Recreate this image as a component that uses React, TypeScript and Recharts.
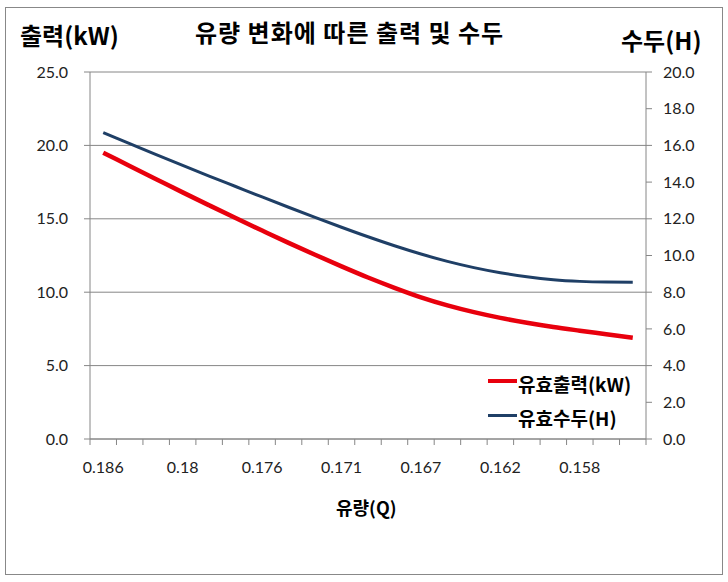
import React from 'react';
import { LineChart, Line, XAxis, YAxis, CartesianGrid } from 'recharts';

// flow rate categories (only every 3rd one is labelled on the axis)
const FLOW = [
  '0.186', '0.184', '0.182', '0.18', '0.179', '0.177', '0.176',
  '0.174', '0.173', '0.171', '0.17', '0.168', '0.167', '0.165',
  '0.164', '0.162', '0.161', '0.159', '0.158', '0.156', '0.155',
];
const POWER = [
  19.5, 18.6, 17.7, 16.8, 15.92, 15.05, 14.2, 13.36, 12.55, 11.76, 11.0,
  10.3, 9.65, 9.1, 8.64, 8.25, 7.92, 7.63, 7.38, 7.14, 6.9,
];
const HEAD = [
  16.7, 16.1, 15.5, 14.91, 14.33, 13.76, 13.19, 12.63, 12.08, 11.54, 11.02,
  10.53, 10.08, 9.68, 9.34, 9.06, 8.84, 8.68, 8.59, 8.55, 8.54,
];
const KW_TICKS = [0, 5, 10, 15, 20, 25];
const H_TICKS = [0, 2, 4, 6, 8, 10, 12, 14, 16, 18, 20];
const POWER_NAME = '유효출력(kW)';
const HEAD_NAME = '유효수두(H)';

const data = FLOW.map((q, i) => ({ q, power: POWER[i], head: HEAD[i] }));

const RED = '#E8000D';
const NAVY = '#1F3F66';
const AXIS = '#868686';
const KR = '"Noto Sans CJK KR", "Noto Sans", sans-serif';
const NUM = 'Lato, "Open Sans", sans-serif';

const PLOT_W = 556;
const HALF = PLOT_W / FLOW.length / 2;

// excel style: tick marks sit between categories, labels every 3rd category
const FlowTick = (props: any) => {
  const { x, y, payload, index } = props;
  const i = payload?.index ?? index;
  return (
    <g>
      <line x1={x - HALF} y1={y - 6} x2={x - HALF} y2={y} stroke={AXIS} />
      {i === FLOW.length - 1 && (
        <line x1={x + HALF} y1={y - 6} x2={x + HALF} y2={y} stroke={AXIS} />
      )}
      {i % 3 === 0 && (
        <text x={x} y={y + 28} textAnchor="middle" fill="#222" fontSize={16} fontFamily={NUM}>
          {payload.value}
        </text>
      )}
    </g>
  );
};

const textBold: React.CSSProperties = {
  position: 'absolute',
  fontFamily: KR,
  fontWeight: 700,
  color: '#000',
  whiteSpace: 'nowrap',
  lineHeight: 1,
};

export default function App() {
  return (
    <div style={{ position: 'absolute', left: 0, top: 0, width: 728, height: 582, background: '#fff' }}>
      <div style={{ position: 'absolute', left: 5, top: 7, width: 716, height: 566, border: '1px solid #888' }} />
      <LineChart
        width={728}
        height={582}
        data={data}
        margin={{ top: 72, right: 0, bottom: 100, left: 0 }}
      >
        <CartesianGrid yAxisId="kw" vertical={false} stroke={AXIS} />
        <XAxis
          dataKey="q"
          height={43}
          interval={0}
          padding={{ left: HALF, right: HALF }}
          axisLine={{ stroke: AXIS }}
          tickLine={false}
          tickSize={6}
          tickMargin={0}
          tick={<FlowTick />}
        />
        <YAxis
          yAxisId="kw"
          width={90}
          domain={[0, 25]}
          ticks={KW_TICKS}
          tickFormatter={(v) => Number(v).toFixed(1)}
          axisLine={{ stroke: AXIS }}
          tickLine={{ stroke: AXIS }}
          tickSize={6}
          tickMargin={16}
          tick={{ fill: '#222', fontSize: 16, fontFamily: NUM }}
        />
        <YAxis
          yAxisId="h"
          orientation="right"
          width={82}
          domain={[0, 20]}
          ticks={H_TICKS}
          tickFormatter={(v) => Number(v).toFixed(1)}
          axisLine={{ stroke: AXIS }}
          tickLine={{ stroke: AXIS }}
          tickSize={6}
          tickMargin={11}
          tick={{ fill: '#222', fontSize: 16, fontFamily: NUM, textAnchor: 'start' }}
        />
        <Line
          yAxisId="kw"
          type="monotone"
          dataKey="power"
          name={POWER_NAME}
          stroke={RED}
          strokeWidth={4.5}
          dot={false}
          isAnimationActive={false}
        />
        <Line
          yAxisId="h"
          type="monotone"
          dataKey="head"
          name={HEAD_NAME}
          stroke={NAVY}
          strokeWidth={3}
          dot={false}
          isAnimationActive={false}
        />
      </LineChart>

      <div style={{ ...textBold, fontSize: 24, letterSpacing: 1, left: 195, top: 20 }}>유량 변화에 따른 출력 및 수두</div>
      <div style={{ ...textBold, fontSize: 24, left: 20, top: 23 }}>출력(kW)</div>
      <div style={{ ...textBold, fontSize: 24, left: 621, top: 28 }}>수두(H)</div>
      <div style={{ ...textBold, fontSize: 18, left: 336, top: 498 }}>유량(Q)</div>

      {[{ name: POWER_NAME, color: RED, w: 4.5, top: 374 }, { name: HEAD_NAME, color: NAVY, w: 3, top: 408 }].map((s) => (
        <div key={s.name} style={{ position: 'absolute', left: 488, top: s.top, display: 'flex', alignItems: 'center' }}>
          <div style={{ width: 29, height: s.w, background: s.color, marginTop: -5 }} />
          <span style={{ ...textBold, position: 'static', fontSize: 19, marginLeft: 1 }}>{s.name}</span>
        </div>
      ))}
    </div>
  );
}
